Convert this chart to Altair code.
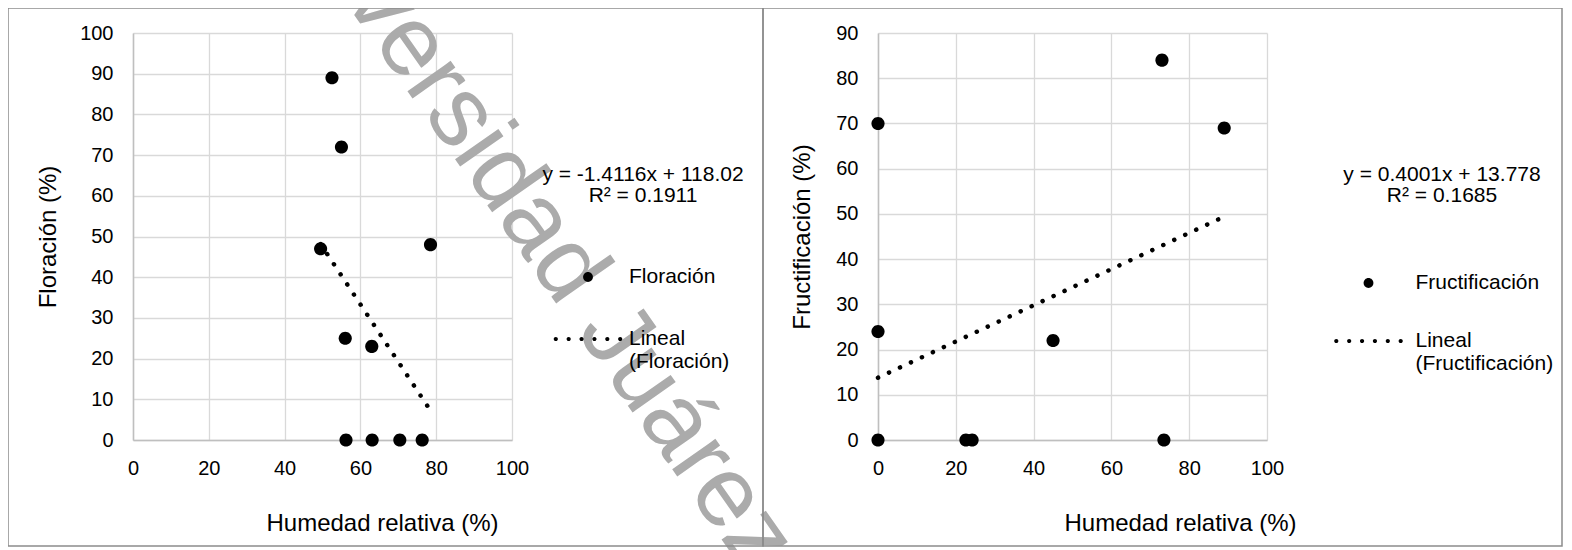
import altair as alt
import pandas as pd

FONT = "Liberation Sans"

# ---- Floración panel data
flo_humedad = [52.5, 55.0, 49.5, 78.5, 56.0, 63.0, 56.2, 63.1, 70.4, 76.3]
flo_floracion = [89, 72, 47, 48, 25, 23, 0, 0, 0, 0]
flo_slope = -1.4116
flo_intercept = 118.02
flo_r2 = 0.1911

# ---- Fructificación panel data
fru_humedad = [0.0, 73.0, 89.0, 0.0, 45.0, 0.0, 22.6, 24.2, 73.5]
fru_fructificacion = [70, 84, 69, 24, 22, 0, 0, 0, 0]
fru_slope = 0.4001
fru_intercept = 13.778
fru_r2 = 0.1685

x_ticks = [0, 20, 40, 60, 80, 100]
flo_y_ticks = [0, 10, 20, 30, 40, 50, 60, 70, 80, 90, 100]
fru_y_ticks = [0, 10, 20, 30, 40, 50, 60, 70, 80, 90]

watermark = "versidad Juárez"


def circle_path(cx, r):
    return (f"M{cx - r:.3f},0A{r},{r},0,1,0,{cx + r:.3f},0"
            f"A{r},{r},0,1,0,{cx - r:.3f},0Z")


DOT = circle_path(0, 0.175)
DOTS = "".join(circle_path(c, 0.075) for c in [-1.15, -0.69, -0.23, 0.23, 0.69, 1.15])


def panel(hum, val, slope, intercept, r2, serie, ymax, yticks, ytitle,
          w, h, xtitle_x, ytitle_x, leg_x, leg_y, sym_off, lab_off,
          title_pad, row_pad, border, wm=None):
    pts = pd.DataFrame({"hum": hum, "val": val, "serie": [serie] * len(hum)})
    x0, x1 = min(hum), max(hum)
    trend = pd.DataFrame({"hum": [x0, x1],
                          "val": [slope * x0 + intercept, slope * x1 + intercept]})
    one = pd.DataFrame({"k": [0]})

    xenc = alt.X("hum:Q",
                 scale=alt.Scale(domain=[0, 100], nice=False, zero=False),
                 axis=alt.Axis(values=x_ticks, title="Humedad relativa (%)",
                               titleX=xtitle_x, titleY=83, titleBaseline="middle",
                               titleAlign="center", labelFlush=False))
    yenc = alt.Y("val:Q",
                 scale=alt.Scale(domain=[0, ymax], nice=False),
                 axis=alt.Axis(values=yticks, title=ytitle, titleX=ytitle_x,
                               titleY=h / 2, titleBaseline="middle",
                               titleAlign="center", labelFlush=False))

    eq = [f"y = {slope}x + {intercept}", f"R² = {r2}"]
    lineal = f"Lineal ({serie})"
    legend = alt.Legend(
        orient="none", legendX=leg_x, legendY=leg_y, title=eq,
        titleAnchor="middle", titleAlign="center", titleFontSize=21,
        titleFontWeight="normal", titleLineHeight=21, titlePadding=title_pad,
        titleColor="black", titleFont=FONT, labelFont=FONT,
        labelFontSize=21, labelColor="black", labelOffset=lab_off,
        symbolOffset=sym_off, symbolSize=3136, symbolStrokeWidth=0,
        symbolFillColor="black", symbolOpacity=1, rowPadding=row_pad,
        padding=0, labelLimit=0, titleLimit=0,
        labelExpr=f"datum.label == '{lineal}' ? ['Lineal', '({serie})'] : datum.label",
    )

    layers = []
    if wm is not None:
        layers.append(
            alt.Chart(one).mark_text(text=watermark, angle=wm[2], fontSize=wm[3],
                                     font=FONT, color="#ababab", align="center",
                                     baseline="middle")
            .encode(x=alt.value(wm[0]), y=alt.value(wm[1]))
        )
    layers.append(
        alt.Chart(one).mark_rect(fillOpacity=0, stroke="#8c8c8c", strokeWidth=1.5)
        .encode(x=alt.value(border[0]), x2=alt.value(border[1]),
                y=alt.value(border[2]), y2=alt.value(border[3]))
    )
    layers.append(
        alt.Chart(trend).mark_line(color="black", strokeWidth=4.5,
                                   strokeDash=[0.1, 12], strokeCap="round")
        .encode(x=xenc, y=yenc)
    )
    layers.append(
        alt.Chart(pts).mark_point(filled=True, size=5625, color="black", opacity=1)
        .encode(x=xenc, y=yenc,
                shape=alt.Shape("serie:N",
                                scale=alt.Scale(domain=[serie, lineal], range=[DOT, DOTS]),
                                legend=legend))
    )
    return alt.layer(*layers).properties(width=w, height=h)


left = panel(flo_humedad, flo_floracion, flo_slope, flo_intercept, flo_r2,
             "Floración", 100, flo_y_ticks, "Floración (%)",
             379, 407, 249, -85, 409, 131, 4, 13, 43, 24,
             (-125, 630, -25, 513), wm=(437, 238, 55, 100))
right = panel(fru_humedad, fru_fructificacion, fru_slope, fru_intercept, fru_r2,
              "Fructificación", 90, fru_y_ticks, "Fructificación (%)",
              389, 407, 302, -76, 453, 131, 9.5, 19, 49, 20,
              (-115, 684, -25, 513))

chart = (
    alt.hconcat(left, right, spacing=366, bounds="flush")
    .resolve_scale(shape="independent", x="independent", y="independent")
    .resolve_legend(shape="independent")
    .properties(autosize=alt.AutoSizeParams(type="none"),
                padding={"left": 125, "top": 25, "right": 1431, "bottom": 514})
    .configure(font=FONT)
    .configure_view(strokeWidth=0)
    .configure_axis(labelFontSize=20, labelColor="black", labelFont=FONT,
                    titleFontSize=24, titleFontWeight="normal", titleColor="black",
                    titleFont=FONT, gridColor="#d9d9d9", gridWidth=1.3,
                    domainColor="#bfbfbf", domainWidth=1.5, ticks=False, tickSize=0,
                    labelFlush=False)
    .configure_axisX(labelPadding=18)
    .configure_axisY(labelPadding=20)
)

chart.save("out.html", embed_options={"renderer": "svg", "actions": False})
